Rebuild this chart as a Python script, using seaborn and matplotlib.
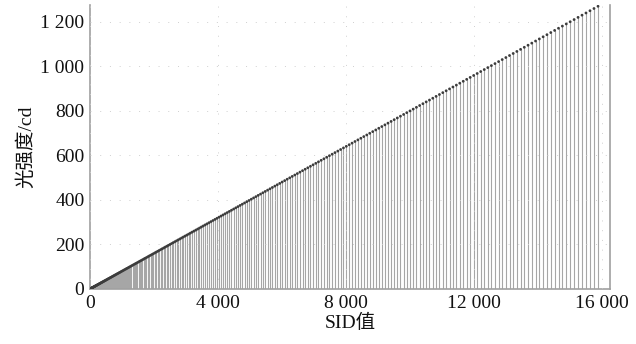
import matplotlib
matplotlib.use('Agg')
import matplotlib.pyplot as plt
import seaborn as sns
import pandas as pd

# SID values of each measured level and the light intensity read at it
sid = [0, 0, 1, 2, 4, 6, 9, 12, 16, 20, 25, 30, 36, 42, 49, 56, 64, 72, 81, 90,
       100, 110, 121, 132, 144, 156, 169, 182, 196, 210, 225, 240, 256, 272, 289, 306, 324, 342, 361, 380,
       400, 420, 441, 462, 484, 506, 529, 552, 576, 600, 625, 650, 676, 702, 729, 756, 784, 812, 841, 870,
       900, 930, 961, 992, 1024, 1056, 1089, 1122, 1156, 1190, 1225, 1260, 1296, 1332, 1369, 1406, 1444, 1482, 1521, 1560,
       1600, 1640, 1681, 1722, 1764, 1806, 1849, 1892, 1936, 1980, 2025, 2070, 2116, 2162, 2209, 2256, 2304, 2352, 2401, 2450,
       2500, 2550, 2601, 2652, 2704, 2756, 2809, 2862, 2916, 2970, 3025, 3080, 3136, 3192, 3249, 3306, 3364, 3422, 3481, 3540,
       3600, 3660, 3721, 3782, 3844, 3906, 3969, 4032, 4096, 4160, 4225, 4290, 4356, 4422, 4489, 4556, 4624, 4692, 4761, 4830,
       4900, 4970, 5041, 5112, 5184, 5256, 5329, 5402, 5476, 5550, 5625, 5700, 5776, 5852, 5929, 6006, 6084, 6162, 6241, 6320,
       6400, 6480, 6561, 6642, 6724, 6806, 6889, 6972, 7056, 7140, 7225, 7310, 7396, 7482, 7569, 7656, 7744, 7832, 7921, 8010,
       8100, 8190, 8281, 8372, 8464, 8556, 8649, 8742, 8836, 8930, 9025, 9120, 9216, 9312, 9409, 9506, 9604, 9702, 9801, 9900,
       10000, 10100, 10201, 10302, 10404, 10506, 10609, 10712, 10816, 10920, 11025, 11130, 11236, 11342, 11449, 11556, 11664, 11772, 11881, 11990,
       12100, 12210, 12321, 12432, 12544, 12656, 12769, 12882, 12996, 13110, 13225, 13340, 13456, 13572, 13689, 13806, 13924, 14042, 14161, 14280,
       14400, 14520, 14641, 14762, 14884, 15006, 15129, 15252, 15376, 15500, 15625, 15750, 15876]

intensity = [0, 0.0, 0.1, 0.2, 0.3, 0.5, 0.7, 1.0, 1.3, 1.6, 2.0, 2.4, 2.9, 3.4, 3.9, 4.5, 5.1, 5.8, 6.5, 7.2,
             8.0, 8.8, 9.7, 10.6, 11.5, 12.5, 13.5, 14.6, 15.7, 16.8, 18.0, 19.2, 20.5, 21.8, 23.1, 24.5, 25.9, 27.4, 28.9, 30.4,
             32.0, 33.6, 35.3, 37.0, 38.7, 40.5, 42.3, 44.2, 46.1, 48.0, 50.0, 52.0, 54.1, 56.2, 58.3, 60.5, 62.7, 65.0, 67.3, 69.6,
             72.0, 74.4, 76.9, 79.4, 81.9, 84.5, 87.1, 89.8, 92.5, 95.2, 98.0, 100.8, 103.7, 106.6, 109.5, 112.5, 115.5, 118.6, 121.7, 124.8,
             128.0, 131.2, 134.5, 137.8, 141.1, 144.5, 147.9, 151.4, 154.9, 158.4, 162.0, 165.6, 169.3, 173.0, 176.7, 180.5, 184.3, 188.2, 192.1, 196.0,
             200.0, 204.0, 208.1, 212.2, 216.3, 220.5, 224.7, 229.0, 233.3, 237.6, 242.0, 246.4, 250.9, 255.4, 259.9, 264.5, 269.1, 273.8, 278.5, 283.2,
             288.0, 292.8, 297.7, 302.6, 307.5, 312.5, 317.5, 322.6, 327.7, 332.8, 338.0, 343.2, 348.5, 353.8, 359.1, 364.5, 369.9, 375.4, 380.9, 386.4,
             392.0, 397.6, 403.3, 409.0, 414.7, 420.5, 426.3, 432.2, 438.1, 444.0, 450.0, 456.0, 462.1, 468.2, 474.3, 480.5, 486.7, 493.0, 499.3, 505.6,
             512.0, 518.4, 524.9, 531.4, 537.9, 544.5, 551.1, 557.8, 564.5, 571.2, 578.0, 584.8, 591.7, 598.6, 605.5, 612.5, 619.5, 626.6, 633.7, 640.8,
             648.0, 655.2, 662.5, 669.8, 677.1, 684.5, 691.9, 699.4, 706.9, 714.4, 722.0, 729.6, 737.3, 745.0, 752.7, 760.5, 768.3, 776.2, 784.1, 792.0,
             800.0, 808.0, 816.1, 824.2, 832.3, 840.5, 848.7, 857.0, 865.3, 873.6, 882.0, 890.4, 898.9, 907.4, 915.9, 924.5, 933.1, 941.8, 950.5, 959.2,
             968.0, 976.8, 985.7, 994.6, 1003.5, 1012.5, 1021.5, 1030.6, 1039.7, 1048.8, 1058.0, 1067.2, 1076.5, 1085.8, 1095.1, 1104.5, 1113.9, 1123.4, 1132.9, 1142.4,
             1152.0, 1161.6, 1171.3, 1181.0, 1190.7, 1200.5, 1210.3, 1220.2, 1230.1, 1240.0, 1250.0, 1260.0, 1270.1]

x_ticks = [0, 4000, 8000, 12000, 16000]
x_tick_labels = ['0', '4 000', '8 000', '12 000', '16 000']
y_ticks = [0, 200, 400, 600, 800, 1000, 1200]
y_tick_labels = ['0', '200', '400', '600', '800', '1 000', '1 200']

sns.set_style('white')
plt.rcParams['font.family'] = ['Liberation Serif', 'Noto Sans CJK SC']

df = pd.DataFrame({'SID': sid, 'cd': intensity})

fig = plt.figure(figsize=(6.36, 3.44), dpi=100)
ax = fig.add_axes([0.1415, 0.160, 0.8176, 0.8256])

# stems
ax.vlines(df['SID'], 0, df['cd'], color='#a6a6a6', lw=0.8, zorder=2)
# tops
sns.scatterplot(data=df, x='SID', y='cd', s=4, color='#3c3c3c', edgecolor='none',
                ax=ax, zorder=3, legend=False)

ax.set_xlim(0, 16250)
ax.set_ylim(0, 1276)
ax.set_xticks(x_ticks)
ax.set_xticklabels(x_tick_labels)
ax.set_yticks(y_ticks)
ax.set_yticklabels(y_tick_labels)
ax.tick_params(direction='in', length=3, width=0.8, color='#999999',
               labelsize=14, labelcolor='#111111', pad=4)
# very faint dotted grid
ax.grid(True, linestyle=(0, (1, 9)), color='#cfcfcf', lw=0.7, zorder=4)
ax.set_axisbelow(False)

for side in ['left', 'bottom', 'right']:
    ax.spines[side].set_color('#a0a0a0')
    ax.spines[side].set_linewidth(1.2)
ax.spines['top'].set_visible(False)

ax.set_xlabel('SID值', fontsize=14, color='#111111', labelpad=2)
ax.set_ylabel('光强度/cd', fontsize=14, color='#111111', labelpad=4)

fig.savefig('out.png', dpi=100)
